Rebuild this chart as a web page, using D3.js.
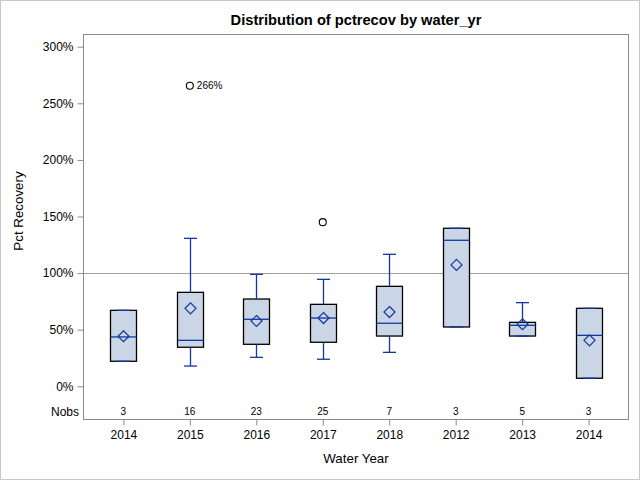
<!DOCTYPE html>
<html>
<head>
<meta charset="utf-8">
<script src="https://cdn.jsdelivr.net/npm/d3@7"></script>
<style>
  html, body { margin: 0; padding: 0; background: #fff; }
  svg { display: block; font-family: "Liberation Sans", Arial, sans-serif; }
</style>
</head>
<body>
<svg id="chart" width="640" height="480"></svg>
<script>
// ---- data ----
const categories = ["2014", "2015", "2016", "2017", "2018", "2012", "2013", "2014"];
const nobs       = [3, 16, 23, 25, 7, 3, 5, 3];
const whiskerLow = [22.1, 17.9, 25.6, 23.9, 30.0, 52.4, 44.4, 7.1];
const q1         = [22.1, 34.5, 37.1, 38.9, 44.4, 52.4, 44.4, 7.1];
const median     = [43.6, 40.6, 59.2, 60.3, 55.7, 129.0, 53.9, 45.0];
const q3         = [67.1, 83.0, 77.1, 72.4, 88.3, 139.6, 56.5, 68.9];
const whiskerHigh= [67.1, 130.7, 98.9, 94.5, 116.6, 139.6, 73.9, 68.9];
const mean       = [44.2, 68.9, 57.7, 60.3, 65.6, 107.2, 54.8, 40.6];
const outlierIdx   = [1, 3];
const outlierVal   = [265.5, 145.0];
const outlierLabel = ["266%", ""];
const yTicks = [0, 50, 100, 150, 200, 250, 300];
const refValue = 100;

// ---- layout ----
const svg = d3.select("#chart");
const L = 83.5, R = 628.5, T = 34.5, B = 419.5;
const blue = "#1238A0", fill = "#CAD5E5", axisGray = "#8A8A8A";

const x = d3.scalePoint().domain(d3.range(categories.length)).range([L, R]).padding(0.6);
const y = d3.scaleLinear().domain([0, 300]).range([386.3, 46.7]);

// outer border
svg.append("rect").attr("x", 0.5).attr("y", 0.5).attr("width", 639).attr("height", 479)
  .attr("fill", "none").attr("stroke", "#C8C8C8");

// title
svg.append("text").attr("x", (L + R) / 2).attr("y", 25).attr("text-anchor", "middle")
  .attr("font-size", 14.67).attr("font-weight", "bold").attr("fill", "#000")
  .text("Distribution of pctrecov by water_yr");

// reference line
svg.append("line").attr("x1", L).attr("x2", R)
  .attr("y1", Math.round(y(refValue)) + 0.5).attr("y2", Math.round(y(refValue)) + 0.5)
  .attr("stroke", "#A0A0A0").attr("stroke-width", 1);

// frame
svg.append("rect").attr("x", L).attr("y", T).attr("width", R - L).attr("height", B - T)
  .attr("fill", "none").attr("stroke", axisGray);

// y axis
const yAxis = d3.axisLeft(y).tickValues(yTicks).tickSize(6).tickPadding(4)
  .tickFormat(d => d + "%");
const gy = svg.append("g").attr("transform", `translate(${L},0)`).call(yAxis);
gy.select(".domain").remove();
gy.selectAll(".tick line").attr("stroke", axisGray);
gy.selectAll(".tick text").attr("font-size", 12).attr("fill", "#000")
  .attr("font-family", "'Liberation Sans', Arial, sans-serif");

// y axis label
svg.append("text").attr("transform", "translate(23,211) rotate(-90)")
  .attr("text-anchor", "middle").attr("font-size", 13.33).attr("fill", "#000")
  .text("Pct Recovery");

// x axis
const xAxis = d3.axisBottom(x).tickSize(6).tickPadding(5).tickFormat(i => categories[i]);
const gx = svg.append("g").attr("transform", `translate(0,${B})`).call(xAxis);
gx.select(".domain").remove();
gx.selectAll(".tick line").attr("stroke", axisGray);
gx.selectAll(".tick text").attr("font-size", 12).attr("fill", "#000")
  .attr("font-family", "'Liberation Sans', Arial, sans-serif");

svg.append("text").attr("x", (L + R) / 2).attr("y", 463).attr("text-anchor", "middle")
  .attr("font-size", 13.33).attr("fill", "#000").text("Water Year");

// Nobs
svg.append("text").attr("x", 79).attr("y", 416).attr("text-anchor", "end")
  .attr("font-size", 12).attr("fill", "#000").text("Nobs");
svg.selectAll("text.nobs").data(nobs).join("text").attr("class", "nobs")
  .attr("x", (d, i) => x(i)).attr("y", 415).attr("text-anchor", "middle")
  .attr("font-size", 10).attr("fill", "#000").text(d => d);

// boxes
const bw = 26, cw = 13;
const g = svg.append("g");
categories.forEach((c, i) => {
  const cx = Math.round(x(i)) + 0.5;
  const grp = g.append("g");
  // box
  grp.append("rect").attr("x", cx - bw / 2).attr("y", y(q3[i]))
    .attr("width", bw).attr("height", y(q1[i]) - y(q3[i]))
    .attr("fill", fill).attr("stroke", "#000").attr("stroke-width", 1.3);
  // whiskers
  grp.append("line").attr("x1", cx).attr("x2", cx).attr("y1", y(q3[i])).attr("y2", y(whiskerHigh[i]))
    .attr("stroke", blue).attr("stroke-width", 1.3);
  grp.append("line").attr("x1", cx).attr("x2", cx).attr("y1", y(q1[i])).attr("y2", y(whiskerLow[i]))
    .attr("stroke", blue).attr("stroke-width", 1.3);
  // caps
  [whiskerHigh[i], whiskerLow[i]].forEach(v => {
    grp.append("line").attr("x1", cx - cw / 2).attr("x2", cx + cw / 2).attr("y1", y(v)).attr("y2", y(v))
      .attr("stroke", blue).attr("stroke-width", 1.3);
  });
  // median
  grp.append("line").attr("x1", cx - bw / 2).attr("x2", cx + bw / 2)
    .attr("y1", y(median[i])).attr("y2", y(median[i]))
    .attr("stroke", blue).attr("stroke-width", 1.3);
  // mean diamond
  const my = y(mean[i]), s = 5.5;
  grp.append("path")
    .attr("d", `M${cx},${my - s}L${cx + s},${my}L${cx},${my + s}L${cx - s},${my}Z`)
    .attr("fill", "none").attr("stroke", blue).attr("stroke-width", 1.2);
});

// outliers
outlierIdx.forEach((idx, k) => {
  const cx = x(idx), cy = y(outlierVal[k]);
  svg.append("circle").attr("cx", cx).attr("cy", cy).attr("r", 3.5)
    .attr("fill", "none").attr("stroke", "#000").attr("stroke-width", 1.1);
  if (outlierLabel[k]) {
    svg.append("text").attr("x", cx + 7).attr("y", cy + 3.5)
      .attr("font-size", 10).attr("fill", "#000").text(outlierLabel[k]);
  }
});
</script>
</body>
</html>
